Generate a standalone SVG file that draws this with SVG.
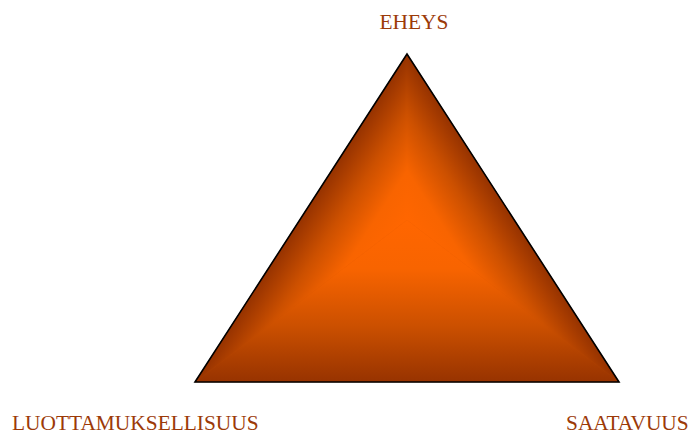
<svg xmlns="http://www.w3.org/2000/svg" width="693" height="434" viewBox="0 0 693 434">
<style>
.lbl{font-family:"Liberation Serif","Times New Roman",serif;font-size:21.4px;fill:#9C3A08;}
</style>
<defs>
<linearGradient id="gB" gradientUnits="userSpaceOnUse" x1="407" y1="220" x2="407" y2="382">
<stop offset="0" stop-color="#FF6600"/>
<stop offset="0.3" stop-color="#F86400"/>
<stop offset="0.65" stop-color="#CC5000"/>
<stop offset="1" stop-color="#973300"/>
</linearGradient>
<linearGradient id="gL" gradientUnits="userSpaceOnUse" x1="407" y1="220" x2="332.1" y2="171.5">
<stop offset="0" stop-color="#FF6600"/>
<stop offset="0.3" stop-color="#F86400"/>
<stop offset="0.65" stop-color="#CC5000"/>
<stop offset="1" stop-color="#973300"/>
</linearGradient>
<linearGradient id="gR" gradientUnits="userSpaceOnUse" x1="407" y1="220" x2="481.9" y2="171.5">
<stop offset="0" stop-color="#FF6600"/>
<stop offset="0.3" stop-color="#F86400"/>
<stop offset="0.65" stop-color="#CC5000"/>
<stop offset="1" stop-color="#973300"/>
</linearGradient>
</defs>
<g id="triangle">
<polygon points="407,54 195,382 619,382" fill="#C04A00"/>
<polygon points="407,220 195,382 619,382" fill="url(#gB)" stroke="url(#gB)" stroke-width="0.5"/>
<polygon points="407,220 407,54 195,382" fill="url(#gL)" stroke="url(#gL)" stroke-width="0.5"/>
<polygon points="407,220 407,54 619,382" fill="url(#gR)" stroke="url(#gR)" stroke-width="0.5"/>
<polygon points="407,54 195,382 619,382" fill="none" stroke="#000" stroke-width="1.6"/>
</g>
<g id="label-eheys"><text class="lbl" x="414" y="29" text-anchor="middle">EHEYS</text></g>
<g id="label-luottamuksellisuus"><text class="lbl" x="12" y="430">LUOTTAMUKSELLISUUS</text></g>
<g id="label-saatavuus"><text class="lbl" x="566" y="430">SAATAVUUS</text></g>
</svg>
